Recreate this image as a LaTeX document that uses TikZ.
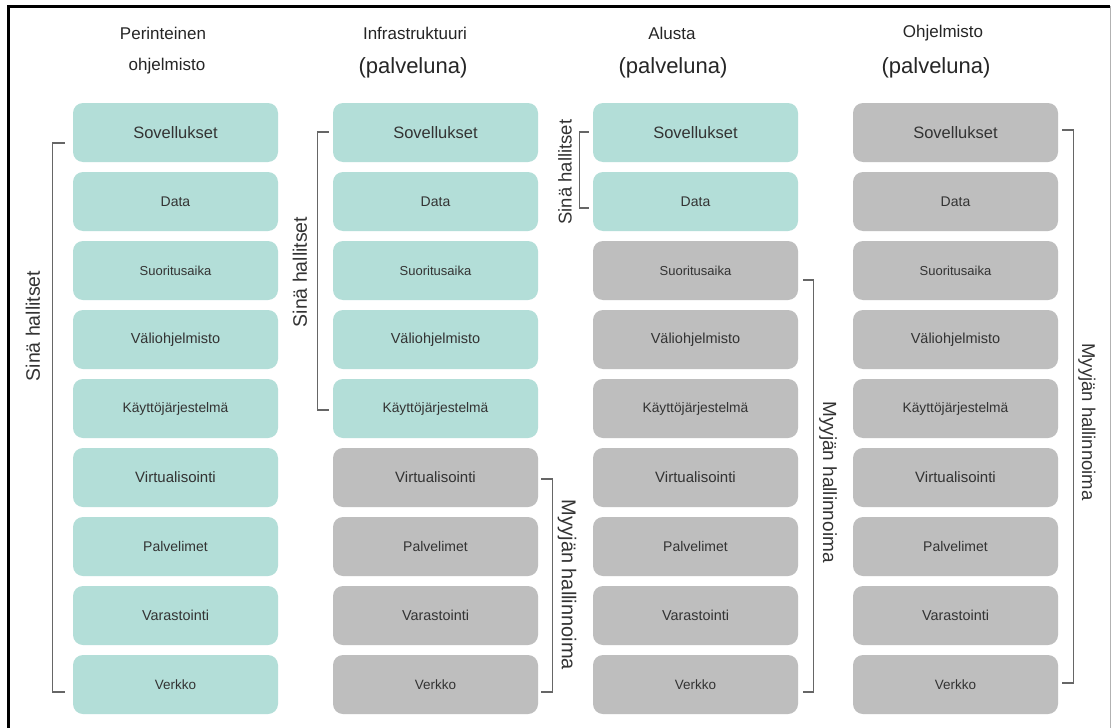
\documentclass[tikz,border=0pt]{standalone}
\usepackage{fontspec}
\setmainfont{Liberation Sans}
\usetikzlibrary{calc}
\definecolor{mint}{HTML}{B3DED8}
\definecolor{boxgray}{HTML}{BEBEBE}
\definecolor{txt}{HTML}{333333}
\definecolor{brkcol}{HTML}{666666}
\begin{document}
\begin{tikzpicture}[x=1pt,y=-1pt,
  box/.style={rounded corners=10pt, minimum width=205pt, minimum height=59pt, inner sep=0pt, text=txt},
  head/.style={text=black!85, inner sep=0pt, font=\fontsize{17}{18}\selectfont},
  headbig/.style={text=black!85, inner sep=0pt, font=\fontsize{22}{24}\selectfont},
  brk/.style={draw=brkcol, line width=1.3pt},
  side/.style={text=txt, inner sep=0pt}]
\useasboundingbox (0,0) rectangle (1112,728);
\fill[white] (0,0) rectangle (1112,728);
% frame
\draw[black!30, line width=0.8pt] (1110,6) -- (1110,728);
\draw[black, line width=3pt] (8,728) -- (8,6.5) -- (1110,6.5);
% boxes
\foreach \cx/\nt [count=\c] in {175.5/9, 435.5/5, 695.5/2, 955.5/0} {
  \foreach \lab/\fs [count=\r] in {Sovellukset/16.5, Data/14, Suoritusaika/13, Väliohjelmisto/14.5, Käyttöjärjestelmä/13.8, Virtualisointi/15, Palvelimet/14, Varastointi/14.4, Verkko/13.5} {
    \pgfmathsetmacro\yy{132.5+69*(\r-1)}
    \ifnum\r>\nt \def\fc{boxgray}\else\def\fc{mint}\fi
    \node[box, fill=\fc, font=\fontsize{\fs}{\fs}\selectfont] (c\c r\r) at (\cx,\yy) {\lab};
  }
}
% headers
\node[head] (h1a) at (163,33) {Perinteinen};
\node[head] (h1b) at (167,66) {ohjelmisto};
\node[head] (h2a) at (415,33) {Infrastruktuuri};
\node[headbig] (h2b) at (413,68) {(palveluna)};
\node[head] (h3a) at (672,33) {Alusta};
\node[headbig] (h3b) at (673,68) {(palveluna)};
\node[head] (h4a) at (943,33) {Ohjelmisto};
\node[headbig] (h4b) at (936,68) {(palveluna)};
% brackets
\draw[brk] ($(c1r1.west)+(-8,10.5)$) -- ++(-12,0) |- ($(c1r9.west)+(-8,7.5)$);
\node[side, rotate=90, font=\fontsize{19.5}{20}\selectfont] (s1) at (33,326) {Sinä hallitset};
\draw[brk] ($(c2r1.west)+(-4,-0.5)$) -- ++(-11,0) |- ($(c2r5.west)+(-4,1.5)$);
\node[side, rotate=90, font=\fontsize{19.5}{20}\selectfont] (s2) at (300,272) {Sinä hallitset};
\draw[brk] ($(c2r6.east)+(3,1.5)$) -- ++(11,0) |- ($(c2r9.east)+(3,7.5)$);
\node[side, rotate=-90, font=\fontsize{20}{21}\selectfont] (m2) at (567,585) {Myyjän hallinnoima};
\draw[brk] ($(c3r1.west)+(-4,-0.5)$) -- ++(-9,0) |- ($(c3r2.west)+(-4,6.5)$);
\node[side, rotate=90, font=\fontsize{18.5}{19}\selectfont] (s3) at (565,172) {Sinä hallitset};
\draw[brk] ($(c3r3.east)+(5,9.5)$) -- ++(10,0) |- ($(c3r9.east)+(5,7.5)$);
\node[side, rotate=-90, font=\fontsize{19}{20}\selectfont] (m3) at (828,482) {Myyjän hallinnoima};
\draw[brk] ($(c4r1.east)+(4,-2.5)$) -- ++(11,0) |- ($(c4r9.east)+(4,-1.5)$);
\node[side, rotate=-90, font=\fontsize{18.5}{19}\selectfont] (m4) at (1087,422) {Myyjän hallinnoima};
\end{tikzpicture}
\end{document}
